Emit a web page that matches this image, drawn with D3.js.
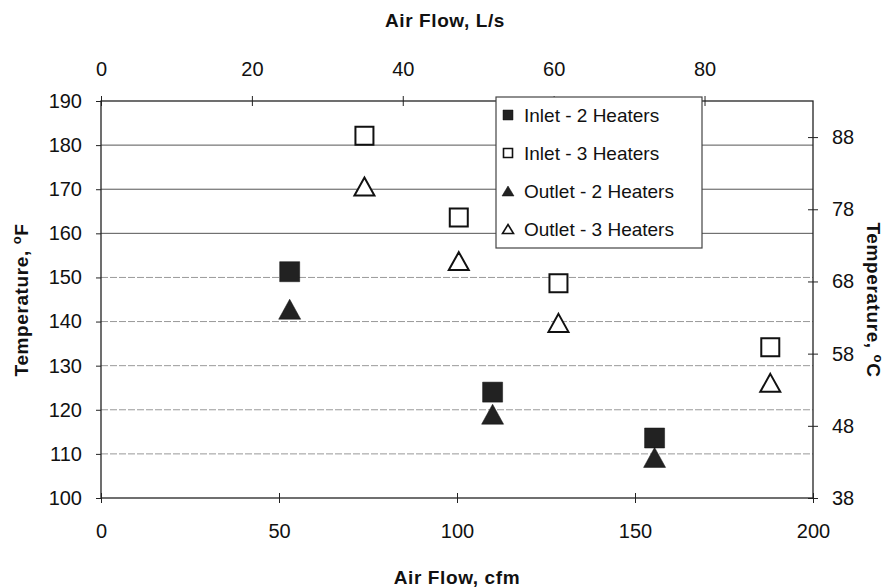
<!DOCTYPE html>
<html lang="en">
<head>
<meta charset="utf-8">
<title>Temperature vs air flow</title>
<script src="https://d3js.org/d3.v7.min.js"></script>
<style>
  body { margin: 0; background: #fff; }
  svg text { font-family: Arial, "Liberation Sans", sans-serif; fill: #111; }
  .tick text { font-size: 20px; }
  .axis-title { font-size: 19px; font-weight: bold; letter-spacing: 0.6px; }
</style>
</head>
<body>
<script>
// data
var cfm2 = [53, 110, 155.5];
var inlet2 = [151.3, 124.0, 113.6];
var outlet2 = [142.8, 119.0, 109.2];
var cfm3 = [74, 100.5, 128.5, 188];
var inlet3 = [182.1, 163.6, 148.7, 134.2];
var outlet3 = [170.6, 153.7, 139.7, 126.1];

var seriesNames = ["Inlet - 2 Heaters", "Inlet - 3 Heaters", "Outlet - 2 Heaters", "Outlet - 3 Heaters"];
var cfmTicks = [0, 50, 100, 150, 200];
var lsTicks = [0, 20, 40, 60, 80];
var fTicks = [100, 110, 120, 130, 140, 150, 160, 170, 180, 190];
var cTicks = [38, 48, 58, 68, 78, 88];

var w = 889, h = 587;
// plot area edges (note: "top" is a reserved window property, so use px names)
var pxL = 101, pxR = 813, pxT = 101, pxB = 498;

var x = d3.scaleLinear().domain([0, 200]).range([pxL, pxR]);
var xTop = d3.scaleLinear().domain([0, 200 * 0.4719]).range([pxL, pxR]);
var y = d3.scaleLinear().domain([100, 190]).range([pxB, pxT]);
var yRight = d3.scaleLinear().domain([38, 93]).range([pxB, pxT]);

var svg = d3.select("body").append("svg")
  .attr("width", w)
  .attr("height", h);

// gridlines (darker solid near the top, lighter dashed lower down, like the scan)
svg.append("g").selectAll("line")
  .data(fTicks.filter(function (d) { return d > 100 && d < 190; }))
  .enter().append("line")
  .attr("x1", pxL).attr("x2", pxR)
  .attr("y1", function (d) { return y(d); })
  .attr("y2", function (d) { return y(d); })
  .attr("stroke", function (d) { return d >= 160 ? "#555" : "#999"; })
  .attr("stroke-dasharray", function (d) { return d >= 160 ? null : "7,2"; })
  .attr("stroke-width", 1);

// axes
var axL = svg.append("g").attr("transform", "translate(" + pxL + ",0)")
  .call(d3.axisLeft(y).tickValues(fTicks).tickSize(5).tickPadding(14));
var axB = svg.append("g").attr("transform", "translate(0," + pxB + ")")
  .call(d3.axisBottom(x).tickValues(cfmTicks).tickSize(5).tickPadding(21));
var axT = svg.append("g").attr("transform", "translate(0," + pxT + ")")
  .call(d3.axisTop(xTop).tickValues(lsTicks).tickSize(5).tickPadding(20));
var axR = svg.append("g").attr("transform", "translate(" + pxR + ",0)")
  .call(d3.axisRight(yRight).tickValues(cTicks).tickSize(5).tickPadding(14));

[axL, axB, axT, axR].forEach(function (g) {
  g.select(".domain").remove();
  g.selectAll(".tick line").attr("stroke", "#222");
  g.selectAll(".tick text").attr("fill", "#111");
});
// ticks crossing the axis on bottom, top and right
axB.selectAll(".tick line").attr("y1", -5);
axT.selectAll(".tick line").attr("y1", 5);
axR.selectAll(".tick line").attr("x1", -5);

// plot frame
svg.append("rect")
  .attr("x", pxL).attr("y", pxT)
  .attr("width", pxR - pxL).attr("height", pxB - pxT)
  .attr("fill", "none").attr("stroke", "#222").attr("stroke-width", 1.3);

// axis titles
svg.append("text").attr("class", "axis-title")
  .attr("x", 445).attr("y", 27).attr("text-anchor", "middle")
  .text("Air Flow, L/s");
svg.append("text").attr("class", "axis-title")
  .attr("x", 457).attr("y", 584).attr("text-anchor", "middle")
  .text("Air Flow, cfm");

var tl = svg.append("text").attr("class", "axis-title")
  .attr("text-anchor", "middle")
  .attr("font-size", "20px")
  .attr("transform", "translate(28,300)rotate(-90)");
tl.append("tspan").text("Temperature,  ");
tl.append("tspan").attr("font-size", "13px").attr("dy", -7).text("o");
tl.append("tspan").attr("dy", 7).text("F");

var tr = svg.append("text").attr("class", "axis-title")
  .attr("text-anchor", "middle")
  .attr("transform", "translate(867,300)rotate(90)");
tr.append("tspan").text("Temperature,  ");
tr.append("tspan").attr("font-size", "13px").attr("dy", -7).text("o");
tr.append("tspan").attr("dy", 7).text("C");

// marker shapes
function squarePath(s) {
  return "M" + (-s / 2) + "," + (-s / 2) + "h" + s + "v" + s + "h" + (-s) + "Z";
}
function trianglePath(s) {
  return "M0," + (-s / 2) + "L" + (s / 2 + 1) + "," + (s / 2) + "L" + (-s / 2 - 1) + "," + (s / 2) + "Z";
}

var series = [
  { name: seriesNames[0], xs: cfm2, ys: inlet2, shape: squarePath, filled: true },
  { name: seriesNames[1], xs: cfm3, ys: inlet3, shape: squarePath, filled: false },
  { name: seriesNames[2], xs: cfm2, ys: outlet2, shape: trianglePath, filled: true },
  { name: seriesNames[3], xs: cfm3, ys: outlet3, shape: trianglePath, filled: false }
];

series.forEach(function (s) {
  svg.append("g").selectAll("path")
    .data(s.xs.map(function (v, i) { return [v, s.ys[i]]; }))
    .enter().append("path")
    .attr("transform", function (d) { return "translate(" + x(d[0]) + "," + y(d[1]) + ")"; })
    .attr("d", s.filled ? s.shape(20) : s.shape(18))
    .attr("fill", s.filled ? "#222" : "#fff")
    .attr("stroke", "#111")
    .attr("stroke-width", s.filled ? 0.5 : 2);
});

// legend
var lg = svg.append("g").attr("transform", "translate(496,97)");
lg.append("rect")
  .attr("width", 206).attr("height", 151)
  .attr("fill", "#fff").attr("stroke", "#444").attr("stroke-width", 1.2);
series.forEach(function (s, i) {
  var row = lg.append("g").attr("transform", "translate(0," + (18 + i * 38) + ")");
  row.append("path")
    .attr("transform", "translate(12,0)")
    .attr("d", s.shape(s.filled ? 10 : 9))
    .attr("fill", s.filled ? "#222" : "#fff")
    .attr("stroke", "#111")
    .attr("stroke-width", s.filled ? 0.5 : 1.6);
  row.append("text")
    .attr("x", 28).attr("y", 7)
    .attr("font-size", "19px")
    .text(s.name);
});
</script>
</body>
</html>
